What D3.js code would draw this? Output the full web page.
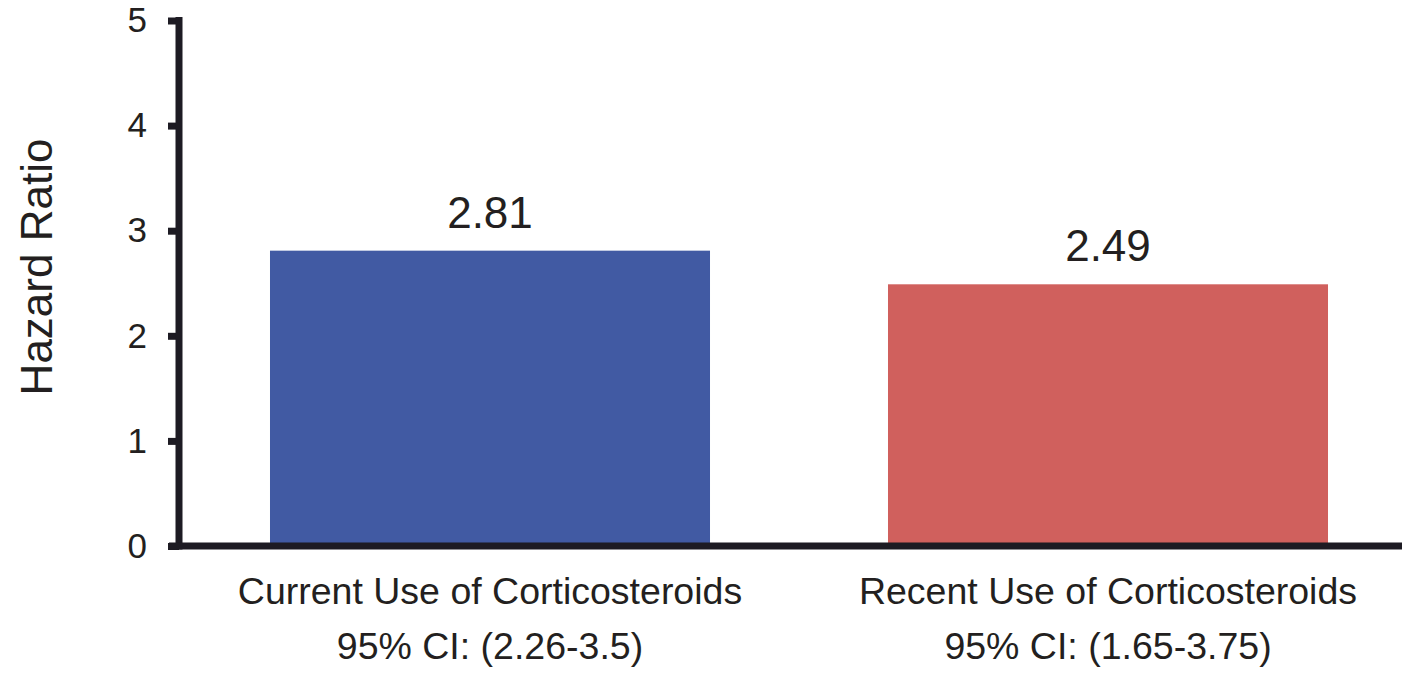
<!DOCTYPE html>
<html>
<head>
<meta charset="utf-8">
<script src="https://cdn.jsdelivr.net/npm/d3@7/dist/d3.min.js"></script>
<style>
  html, body { margin: 0; padding: 0; background: #ffffff; }
  svg { display: block; font-family: "Liberation Sans", Arial, Helvetica, sans-serif; }
</style>
</head>
<body>
<svg id="chart" width="1403" height="673"></svg>
<script>
// Hazard ratios by corticosteroid exposure
const categories = ["Current Use of Corticosteroids", "Recent Use of Corticosteroids"];
const hazardRatios = [2.81, 2.49];
const ciLabels = ["95% CI: (2.26-3.5)", "95% CI: (1.65-3.75)"];
const barColors = ["#415aa3", "#d0605d"];
const yTicks = [0, 1, 2, 3, 4, 5];

const ink = "#1d1b23";
const textColor = "#231f20";

const svg = d3.select("#chart");

const y = d3.scaleLinear().domain([0, 5]).range([546, 20.5]);
const x = d3.scaleBand()
  .domain(categories)
  .range([181, 1417])
  .paddingInner(0.288)
  .paddingOuter(0.144);

const axisX = 179;

// bars
svg.append("g")
  .selectAll("rect")
  .data(hazardRatios)
  .join("rect")
  .attr("x", (d, i) => x(categories[i]))
  .attr("width", x.bandwidth())
  .attr("y", d => y(d))
  .attr("height", d => y(0) - y(d))
  .attr("fill", (d, i) => barColors[i]);

// value labels
svg.append("g")
  .selectAll("text")
  .data(hazardRatios)
  .join("text")
  .attr("x", (d, i) => x(categories[i]) + x.bandwidth() / 2)
  .attr("y", d => y(d) - 23)
  .attr("text-anchor", "middle")
  .attr("font-size", 44)
  .attr("fill", textColor)
  .text(d => d.toFixed(2));

// y axis
const yAxis = d3.axisLeft(y)
  .tickValues(yTicks)
  .tickFormat(d3.format("d"))
  .tickSize(11)
  .tickSizeOuter(0)
  .tickPadding(21);

const gy = svg.append("g")
  .attr("transform", `translate(${axisX},0)`)
  .call(yAxis);
gy.select(".domain").remove();
gy.selectAll(".tick line").attr("stroke", ink).attr("stroke-width", 7);
gy.selectAll(".tick text")
  .attr("font-size", 35)
  .attr("fill", textColor)
  .attr("font-family", "'Liberation Sans', Arial, Helvetica, sans-serif");

gy.append("line")
  .attr("x1", 0).attr("x2", 0)
  .attr("y1", y(5) - 3.5).attr("y2", y(0) + 3.5)
  .attr("stroke", ink)
  .attr("stroke-width", 7);

// x baseline
svg.append("line")
  .attr("x1", 169).attr("x2", 1402)
  .attr("y1", y(0)).attr("y2", y(0))
  .attr("stroke", ink)
  .attr("stroke-width", 7);

// category labels and confidence intervals
const catG = svg.append("g");
catG.selectAll("text.cat")
  .data(categories)
  .join("text")
  .attr("class", "cat")
  .attr("x", d => x(d) + x.bandwidth() / 2)
  .attr("y", 604)
  .attr("text-anchor", "middle")
  .attr("font-size", 37.5)
  .attr("fill", textColor)
  .text(d => d);

catG.selectAll("text.ci")
  .data(ciLabels)
  .join("text")
  .attr("class", "ci")
  .attr("x", (d, i) => x(categories[i]) + x.bandwidth() / 2)
  .attr("y", 659)
  .attr("text-anchor", "middle")
  .attr("font-size", 37.5)
  .attr("fill", textColor)
  .text(d => d);

// y axis title
svg.append("text")
  .attr("transform", "translate(52,267) rotate(-90)")
  .attr("text-anchor", "middle")
  .attr("font-size", 44)
  .attr("fill", textColor)
  .text("Hazard Ratio");
</script>
</body>
</html>
